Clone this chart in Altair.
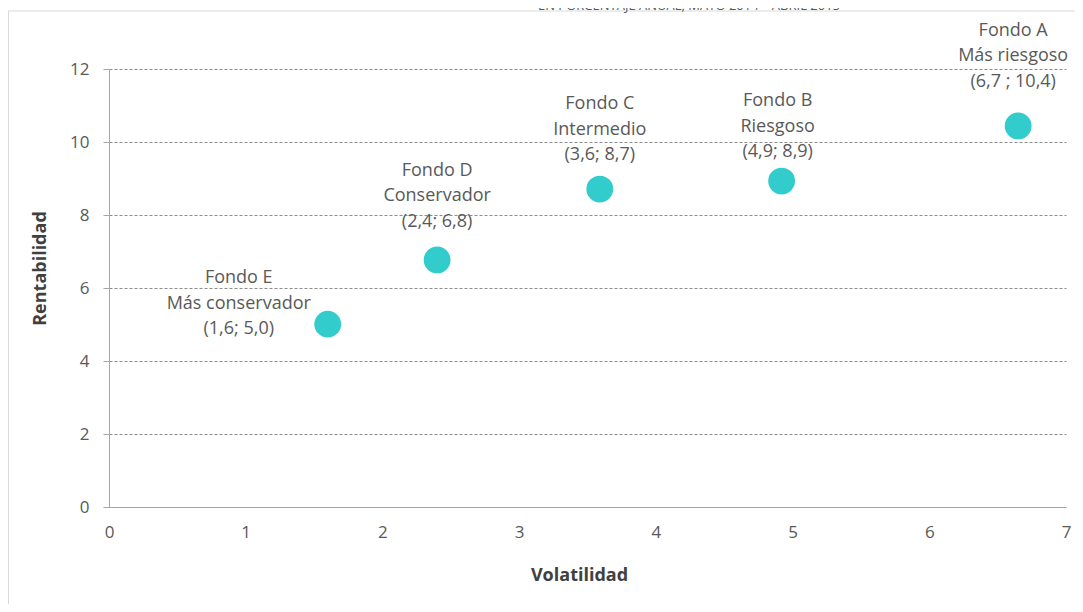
import altair as alt
import pandas as pd

fondos = ["Fondo A", "Fondo B", "Fondo C", "Fondo D", "Fondo E"]
perfiles = ["Más riesgoso", "Riesgoso", "Intermedio", "Conservador", "Más conservador"]
coords = ["(6,7 ; 10,4)", "(4,9; 8,9)", "(3,6; 8,7)", "(2,4; 6,8)", "(1,6; 5,0)"]
volatilidad = [6.65, 4.92, 3.59, 2.40, 1.60]
rentabilidad = [10.44, 8.93, 8.71, 6.77, 5.01]
titulo = "EN PORCENTAJE ANUAL, MAYO 2014 – ABRIL 2015"

df = pd.DataFrame({
    "fondo": fondos,
    "perfil": perfiles,
    "coord": coords,
    "Volatilidad": volatilidad,
    "Rentabilidad": rentabilidad,
})
df["label"] = df["fondo"] + "\n" + df["perfil"] + "\n" + df["coord"]

FONT = "Open Sans"
GREY = "#595959"

# label offsets (pixels) per fondo: to the first line of each label
label_dx = [-5, -4, 0, 0, -89]
label_dy = [-95, -80, -85, -89, -46]

x_enc = alt.X("Volatilidad:Q", scale=alt.Scale(domain=[0, 7], nice=False),
              axis=alt.Axis(values=list(range(0, 8)), format="d", grid=False, ticks=False,
                            labelFlush=False, title="Volatilidad", titlePadding=26,
                            labelPadding=17, titleX=470))
y_enc = alt.Y("Rentabilidad:Q", scale=alt.Scale(domain=[0, 12], nice=False),
              axis=alt.Axis(values=list(range(0, 13, 2)), format="d", grid=True, ticks=True, tickSize=6,
                            labelFlush=False, title="Rentabilidad", titlePadding=20,
                            labelPadding=14, titleY=199))

points = alt.Chart(df).mark_circle(size=720, color="#33CCCC", opacity=1).encode(x=x_enc, y=y_enc)

labels = []
for i, f in enumerate(fondos):
    labels.append(
        alt.Chart(df[df["fondo"] == f]).mark_text(
            lineBreak="\n", lineHeight=25.5, fontSize=18, font=FONT, color=GREY,
            align="center", baseline="middle", dx=label_dx[i], dy=label_dy[i]
        ).encode(x="Volatilidad:Q", y="Rentabilidad:Q", text="label:N")
    )

border_top = alt.Chart(pd.DataFrame({"a": [0]})).mark_rule(color="#D9D9D9", strokeWidth=1).encode(
    x=alt.value(-101), x2=alt.value(966), y=alt.value(-58))
border_left = alt.Chart(pd.DataFrame({"a": [0]})).mark_rule(color="#D9D9D9", strokeWidth=1).encode(
    x=alt.value(-100.5), y=alt.value(-58), y2=alt.value(535))
title_txt = alt.Chart(pd.DataFrame({"t": [titulo]})).mark_text(
    fontSize=13, font=FONT, color=GREY, align="center", baseline="alphabetic").encode(
    x=alt.value(580), y=alt.value(-59), text="t:N")

chart = alt.layer(border_top, border_left, title_txt, points, *labels).properties(
    width=957, height=438,
    autosize=alt.AutoSizeParams(type="none"),
    padding={"left": 101, "top": 61, "right": 9, "bottom": 97},
).configure_view(stroke=None).configure_axis(
    domainColor="#A6A6A6", tickColor="#A6A6A6", gridColor="#8C8C8C", gridDash=[3, 2],
    labelFont=FONT, labelFontSize=17, labelColor=GREY,
    titleFont=FONT, titleFontSize=18, titleColor="#404040", titleFontWeight="bold",
)

chart.save("out.html", embed_options={"renderer": "svg", "actions": False})
